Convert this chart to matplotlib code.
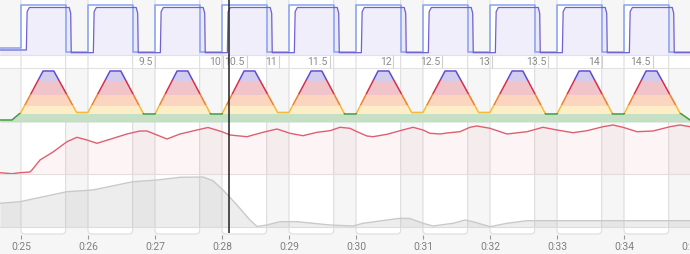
import matplotlib
matplotlib.use('Agg')
import matplotlib.pyplot as plt
import numpy as np
from matplotlib.patches import FancyBboxPatch, Rectangle

plt.rcParams['font.family'] = ['Roboto', 'DejaVu Sans']

# visible time range (minutes)
t_min, t_max = 24.687, 34.985

# 40s on / 20s off intervals
interval_start = [25, 26, 27, 28, 29, 30, 31, 32, 33, 34]
work_min = 40 / 60

# power (W)
target_pre, target_work, target_rest = 42, 300, 20
actual_pre, actual_work, actual_rest = 30, 285, 14

# zone chart
zone_t = [24.687, 24.866, 25.0,
          25.33, 25.49, 25.83, 26.0,
          26.33, 26.49, 26.83, 27.0,
          27.33, 27.49, 27.83, 28.0,
          28.33, 28.49, 28.83, 29.0,
          29.33, 29.49, 29.83, 30.0,
          30.33, 30.49, 30.83, 31.0,
          31.33, 31.49, 31.83, 32.0,
          32.33, 32.49, 32.83, 33.0,
          33.33, 33.49, 33.83, 34.0,
          34.33, 34.49, 34.836, 34.985]
zone_v = [1, 1, 8.6,
          50, 50, 8.6, 8.6,
          50, 50, 7.0, 7.0,
          50, 50, 7.0, 7.0,
          50, 50, 8.6, 8.6,
          50, 50, 7.0, 7.0,
          50, 50, 8.6, 8.6,
          50, 50, 8.6, 8.6,
          50, 50, 7.0, 7.0,
          50, 50, 7.0, 7.0,
          50, 50, 8.0, 1]
# (low, high, fill, line)
zones = [(-5, 7.8, '#c6e0c6', '#3f9b3f'),
         (7.8, 16.5, '#fdeec7', '#f6b93b'),
         (16.5, 27, '#fbd5c0', '#ef7f30'),
         (27, 41, '#f1c4ca', '#d3304f'),
         (41, 60, '#d3ccef', '#5b4dcf')]

# heart rate
hr_t = [24.687, 24.866, 24.985, 25.134, 25.164, 25.284, 25.478, 25.687, 25.836,
        25.985, 26.134, 26.328, 26.582, 26.776, 26.881, 27.030, 27.179, 27.373,
        27.627, 27.791, 28.000, 28.119, 28.373, 28.612, 28.821, 29.015, 29.209,
        29.418, 29.612, 29.761, 29.910, 30.015, 30.164, 30.254, 30.463, 30.657,
        30.851, 31.000, 31.104, 31.254, 31.358, 31.552, 31.701, 31.806, 32.000,
        32.254, 32.552, 32.791, 33.000, 33.239, 33.448, 33.687, 33.836, 33.985,
        34.194, 34.433, 34.687, 34.836, 34.985]
hr_v = [129.3, 128.3, 129.3, 130, 132, 142, 150, 160.3, 164.7,
        162, 158.7, 162.7, 168, 171, 171, 167, 163, 168,
        172, 174.5, 170.3, 167, 165.3, 169.7, 173, 168.7, 166.3,
        169.7, 171.3, 174.7, 173.7, 170.3, 166, 165.3, 167.7, 171.3,
        174.7, 172, 168.7, 168, 169, 170.3, 174.7, 176, 173.7,
        168, 170.3, 174.7, 172, 169.3, 171.3, 175.3, 177, 174.7,
        170.3, 171, 175.3, 177, 175.3]

# lower grey series
gr_t = [24.687, 24.985, 25.687, 26.075, 26.672, 27.030, 27.373, 27.716, 27.866,
        28.015, 28.224, 28.418, 28.522, 28.672, 28.866, 29.119, 29.358, 29.612,
        29.955, 30.104, 30.463, 30.657, 30.806, 31.000, 31.149, 31.448, 31.627,
        31.746, 32.000, 32.254, 32.552, 34.985]
gr_v = [23.7, 25.3, 35.3, 37, 45.3, 47, 49.7, 50, 46.3,
        37, 22, 7, 0.5, 2, 5.3, 5.3, 3.7, 2,
        1, 3.7, 7, 8.7, 8.5, 3.7, 1, 3.7, 7,
        5.3, 0.3, 3.7, 6.3, 6.3]

# distance markers (km)
dist_labels = ['9.5', '10', '10.5', '11', '11.5', '12', '12.5', '13', '13.5', '14', '14.5']
dist_t = [27.0, 28.01, 28.373, 28.851, 29.612, 30.557, 31.284, 32.025, 32.870, 33.667, 34.433]

time_ticks = [25, 26, 27, 28, 29, 30, 31, 32, 33, 34, 35]
cursor_t = 28.109

W, H = 690, 254
fig = plt.figure(figsize=(W / 100, H / 100), dpi=100)


def panel(top, bottom, z=2):
    a = fig.add_axes([0, 1 - bottom / H, 1, (bottom - top) / H], zorder=z)
    a.set_xlim(t_min, t_max)
    a.patch.set_alpha(0)
    a.axis('off')
    return a


# background in pixel units
bg = fig.add_axes([0, 0, 1, 1], zorder=0)
bg.set_xlim(t_min, t_max)
bg.set_ylim(H, 0)
bg.axis('off')
bg.add_patch(Rectangle((t_min, 0), t_max - t_min, H, color='#f6f6f6', zorder=0))
bg.axhspan(55, 68, color='white', zorder=1)
for t0 in interval_start:
    bg.add_patch(FancyBboxPatch((t0, -10), work_min, 244,
                                boxstyle='round,pad=0,rounding_size=0.06',
                                mutation_aspect=67, fc='white', ec='#dddddd',
                                lw=0.8, zorder=2))
for y in [55, 68, 174, 227]:
    bg.axhline(y, color='#e2e2e2', lw=0.8, zorder=3)
bg.vlines(dist_t, 55, 68, color='#cfcfcf', lw=0.8, zorder=3)
for t, lab in zip(dist_t, dist_labels):
    bg.text(t - 0.03, 62, lab, ha='right', va='center', fontsize=7.5,
            color='#8a8a8a', zorder=4)
bg.vlines(time_ticks, 235, 239, color='#999999', lw=0.8, zorder=3)
for t in time_ticks:
    bg.text(t, 246.5, '0:%02d' % t, ha='center', va='center', fontsize=7.5,
            color='#808080', zorder=4)

# power panel
ap = panel(0, 55)
ap.set_ylim(0, 330)
tt, tv = [t_min], [target_pre]
at, av = [t_min], [actual_pre]
prev_t, prev_a = target_pre, actual_pre
for t0 in interval_start:
    tt += [t0, t0, t0 + work_min, t0 + work_min]
    tv += [prev_t, target_work, target_work, target_rest]
    prev_t = target_rest
    on, off = t0 + 0.08, t0 + 0.75
    at += [on, on + 0.012, on + 0.045, off - 0.03, off - 0.008, off]
    av += [prev_a, actual_work - 25, actual_work, actual_work, actual_work - 35, actual_rest]
    prev_a = actual_rest
tt.append(t_max)
tv.append(target_rest)
at.append(t_max)
av.append(actual_rest)
ap.fill_between(at, 0, av, color='#dedbf6', alpha=0.45, lw=0)
ap.plot(tt, tv, color='#86a3f3', lw=1.1)
ap.plot(at, av, color='#7060d2', lw=0.9)

# zone panel
az = panel(68, 122)
az.set_ylim(-1, 53)
clips = []
for lo, hi, fc, lc in zones:
    rect = Rectangle((t_min, lo), t_max - t_min, hi - lo, transform=az.transData)
    f = az.fill_between(zone_t, -1, zone_v, color=fc, lw=0)
    f.set_clip_path(rect)
    clips.append((rect, lc))
az.axhline(-0.5, color='#a3d6c1', lw=1.0)
for rect, lc in clips:
    ln, = az.plot(zone_t, zone_v, color=lc, lw=1.1)
    ln.set_clip_path(rect)

# heart rate panel
ah = panel(122, 174)
ah.set_ylim(128, 180)
ah.fill_between(hr_t, 128, hr_v, color='#e8707e', alpha=0.07, lw=0)
ah.plot(hr_t, hr_v, color='#df5f70', lw=1.0)

# grey panel
ag = panel(174, 227)
ag.set_ylim(0, 53)
ag.fill_between(gr_t, 0, gr_v, color='#a0a0a0', alpha=0.18, lw=0)
ag.plot(gr_t, gr_v, color='#c9c9c9', lw=1.0)

# cursor
top = fig.add_axes([0, 0, 1, 1], zorder=10)
top.set_xlim(t_min, t_max)
top.set_ylim(H, 0)
top.patch.set_alpha(0)
top.axis('off')
top.vlines([cursor_t], 0, 233, color='#222222', lw=1.1)

fig.savefig('out.png', dpi=100)
